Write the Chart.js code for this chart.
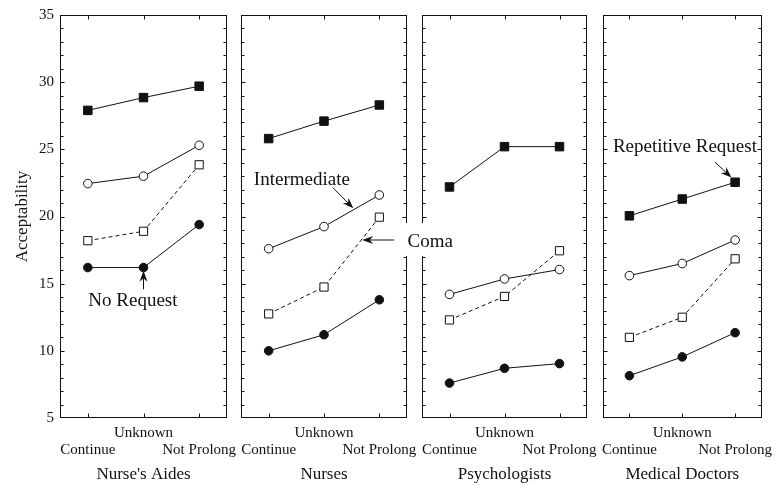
<!DOCTYPE html>
<html>
<head>
<meta charset="utf-8">
<script src="https://cdn.jsdelivr.net/npm/chart.js@4"></script>
<style>
  html, body { margin: 0; padding: 0; background: #fff; }
  #wrap { position: relative; width: 780px; height: 485px; }
  #wrap canvas { position: absolute; left: 0; top: 0; }
</style>
</head>
<body>
<div id="wrap">
  <canvas id="p0" width="780" height="485" style="z-index:1"></canvas>
  <canvas id="p1" width="780" height="485" style="z-index:4"></canvas>
  <canvas id="p2" width="780" height="485" style="z-index:2"></canvas>
  <canvas id="p3" width="780" height="485" style="z-index:3"></canvas>
</div>
<script>
// ── data ──
const categories = ['Continue', 'Unknown', 'Not Prolong'];
const groups = ["Nurse's Aides", 'Nurses', 'Psychologists', 'Medical Doctors'];
const yTicks = [5, 10, 15, 20, 25, 30, 35];

// one row per group, one value per category
const repetitive   = [[27.9, 28.85, 29.7], [25.8, 27.1, 28.3], [22.2, 25.2, 25.2], [20.05, 21.3, 22.55]];
const intermediate = [[22.45, 23.0, 25.3], [17.6, 19.25, 21.6], [14.2, 15.35, 16.05], [15.6, 16.5, 18.25]];
const coma         = [[18.2, 18.9, 23.85], [12.75, 14.75, 19.95], [12.3, 14.05, 17.45], [11.0, 12.5, 16.85]];
const noRequest    = [[16.2, 16.2, 19.4], [10.0, 11.2, 13.8], [7.6, 8.7, 9.05], [8.15, 9.55, 11.35]];

// ── layout ──
const W = 780, H = 485;
const bounds = [[60, 227], [241, 407], [422, 587], [603, 768]];
const SERIF = "'Liberation Serif', 'Times New Roman', serif";
const INK = '#111';

// labels with arrows, placed in each panel's data coordinates (category index, value)
const notes = [
  { panel: 0, text: 'No Request', tx: 0.81, ty: 13.7, from: [1, 14.58], to: [1, 15.97] },
  { panel: 1, text: 'Intermediate', tx: 0.6, ty: 22.72, from: [1.16, 22.15], to: [1.53, 20.61] },
  { panel: 1, text: 'Coma', tx: 2.92, ty: 18.1, from: [2.27, 18.25], to: [1.69, 18.25], box: true },
  { panel: 3, text: 'Repetitive Request', tx: 1.05, ty: 25.15, from: [1.62, 24.05], to: [1.93, 22.9] }
];

function line(ctx, x1, y1, x2, y2) {
  ctx.beginPath(); ctx.moveTo(x1, y1); ctx.lineTo(x2, y2); ctx.stroke();
}

// box round the plot + inward ticks
const framePlugin = {
  id: 'frame',
  beforeDatasetsDraw(chart) {
    const ctx = chart.ctx, a = chart.chartArea;
    const xs = chart.scales.x, ys = chart.scales.y;
    const L = Math.round(a.left) + 0.5, R = Math.round(a.right) - 0.5;
    const T = Math.round(a.top) + 0.5, B = Math.round(a.bottom) - 0.5;
    ctx.save();
    ctx.strokeStyle = INK; ctx.lineWidth = 1;
    ctx.strokeRect(L, T, R - L, B - T);
    for (let v = yTicks[0] + 1; v < yTicks[yTicks.length - 1]; v++) {
      const len = v % 5 === 0 ? 4 : 3;
      const py = Math.round(ys.getPixelForValue(v)) + 0.5;
      line(ctx, L, py, L + len, py);
      line(ctx, R - len, py, R, py);
    }
    categories.forEach((c, k) => {
      const px = Math.round(xs.getPixelForValue(k)) + 0.5;
      line(ctx, px, T, px, T + 4);
      line(ctx, px, B - 4, px, B);
    });
    ctx.restore();
  }
};

function arrow(ctx, x1, y1, x2, y2) {
  const ang = Math.atan2(y2 - y1, x2 - x1);
  const len = 11, half = 4, notch = 7.5;
  line(ctx, x1, y1, x2 - Math.cos(ang) * notch, y2 - Math.sin(ang) * notch);
  ctx.save();
  ctx.translate(x2, y2); ctx.rotate(ang);
  ctx.beginPath();
  ctx.moveTo(0, 0);
  ctx.lineTo(-len, -half);
  ctx.lineTo(-notch, 0);
  ctx.lineTo(-len, half);
  ctx.closePath();
  ctx.fill();
  ctx.restore();
}

const notesPlugin = {
  id: 'notes',
  afterDraw(chart) {
    const panel = +chart.canvas.id.slice(1);
    const ctx = chart.ctx, xs = chart.scales.x, ys = chart.scales.y;
    ctx.save();
    ctx.font = '19px ' + SERIF;
    ctx.fillStyle = INK; ctx.strokeStyle = INK; ctx.lineWidth = 1;
    ctx.textAlign = 'center'; ctx.textBaseline = 'middle';
    notes.filter(n => n.panel === panel).forEach(n => {
      const tx = xs.getPixelForValue(n.tx), ty = ys.getPixelForValue(n.ty);
      if (n.box) {
        const w = ctx.measureText(n.text).width;
        ctx.fillStyle = '#fff';
        ctx.fillRect(tx - w / 2 - 5, ty - 19, w + 9, 33);
        ctx.fillStyle = INK;
      }
      ctx.fillText(n.text, tx, ty);
      arrow(ctx, xs.getPixelForValue(n.from[0]), ys.getPixelForValue(n.from[1]),
                 xs.getPixelForValue(n.to[0]), ys.getPixelForValue(n.to[1]));
    });
    ctx.restore();
  }
};

function series(label, data, style) {
  return Object.assign({
    label, data,
    borderColor: INK, borderWidth: 1, tension: 0,
    pointBorderColor: INK, pointBorderWidth: 1
  }, style);
}

function makePanel(i) {
  const [left, right] = bounds[i];
  const first = i === 0;
  return new Chart(document.getElementById('p' + i), {
    type: 'line',
    data: {
      labels: categories,
      datasets: [
        series('Repetitive Request', repetitive[i], { pointStyle: 'rect', pointRadius: 6, pointBackgroundColor: INK }),
        series('Intermediate', intermediate[i], { pointStyle: 'circle', pointRadius: 4.3, pointBackgroundColor: '#fff' }),
        series('Coma', coma[i], { pointStyle: 'rect', pointRadius: 5.8, pointBackgroundColor: '#fff', borderDash: [4, 3] }),
        series('No Request', noRequest[i], { pointStyle: 'circle', pointRadius: 4.3, pointBackgroundColor: INK })
      ]
    },
    options: {
      responsive: false,
      animation: false,
      events: [],
      layout: { padding: { left: first ? 0 : left, right: W - right, top: 15, bottom: 0 } },
      plugins: { legend: { display: false }, tooltip: { enabled: false } },
      scales: {
        x: {
          type: 'category',
          offset: true,
          grid: { display: false, drawTicks: false },
          border: { display: false },
          ticks: {
            autoSkip: false, maxRotation: 0, minRotation: 0, padding: 6, color: INK,
            font: { family: SERIF, size: 15, lineHeight: 1.15 },
            callback: (v, k) => k === 1 ? [categories[k], ''] : ['', categories[k]]
          },
          title: {
            display: true, text: groups[i], color: INK,
            font: { family: SERIF, size: 17 }, padding: { top: 0, bottom: 0 }
          },
          afterFit: s => { s.height = H - 418; }
        },
        y: {
          min: yTicks[0], max: yTicks[yTicks.length - 1],
          grid: { display: false, drawTicks: false },
          border: { display: false },
          ticks: {
            display: first, stepSize: yTicks[1] - yTicks[0], padding: 6, color: INK,
            font: { family: SERIF, size: 15 }
          },
          title: {
            display: first, text: 'Acceptability', color: INK,
            font: { family: SERIF, size: 17 }, padding: { top: 12, bottom: 0 }
          },
          afterFit: s => { s.width = first ? left : 0; }
        }
      }
    },
    plugins: [framePlugin, notesPlugin]
  });
}

groups.forEach((g, i) => makePanel(i));
</script>
</body>
</html>
